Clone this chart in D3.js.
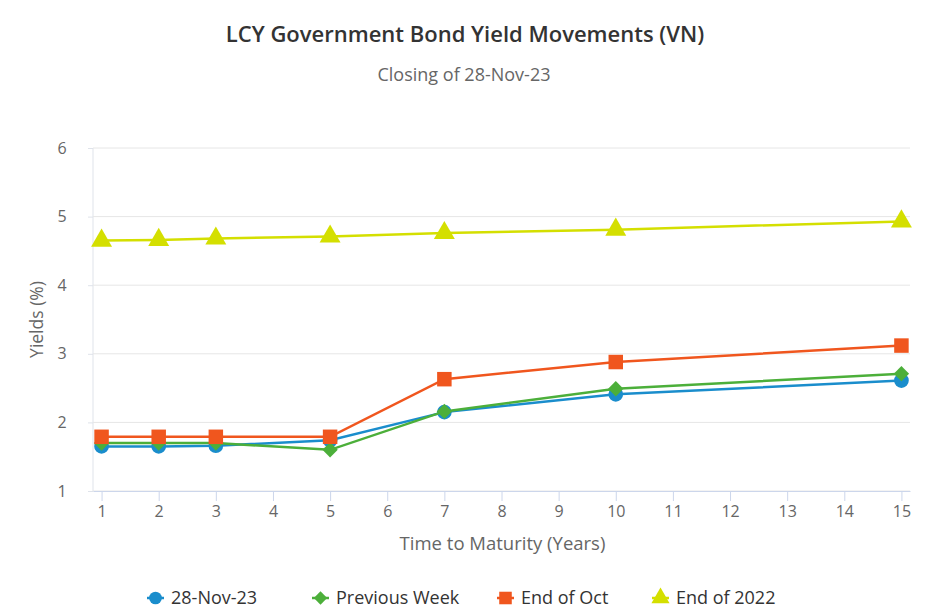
<!DOCTYPE html>
<html>
<head>
<meta charset="utf-8">
<script src="https://cdn.jsdelivr.net/npm/d3@7"></script>
<style>
  body { margin: 0; background: #fff; }
  text { font-family: "Open Sans", "DejaVu Sans", sans-serif; }
</style>
</head>
<body>
<svg></svg>
<script>
// data
const maturities = [1, 2, 3, 5, 7, 10, 15];
const xTicks = [1, 2, 3, 4, 5, 6, 7, 8, 9, 10, 11, 12, 13, 14, 15];
const yTicks = [1, 2, 3, 4, 5, 6];
const seriesNames = ["28-Nov-23", "Previous Week", "End of Oct", "End of 2022"];
const nov28 = [1.65, 1.65, 1.66, 1.74, 2.15, 2.41, 2.61];
const prevWeek = [1.70, 1.70, 1.70, 1.60, 2.16, 2.49, 2.71];
const endOct = [1.79, 1.79, 1.79, 1.79, 2.63, 2.88, 3.12];
const end2022 = [4.65, 4.66, 4.68, 4.71, 4.76, 4.81, 4.93];

const colors = ["#1a8dcc", "#4caf3a", "#f0561e", "#d4df00"];
const symbols = [d3.symbolCircle, d3.symbolDiamond2, d3.symbolSquare, d3.symbolTriangle];
const symSize = [170, 150, 210, 190];

const width = 929, height = 608;
const margin = { top: 148, right: 19, bottom: 117, left: 93 };

const series = [nov28, prevWeek, endOct, end2022].map((vals, i) => ({
    name: seriesNames[i],
    color: colors[i],
    symbol: symbols[i],
    size: symSize[i],
    values: maturities.map((m, j) => ({ x: m, y: vals[j] }))
}));

const svg = d3.select("svg")
    .attr("width", width)
    .attr("height", height);

const x = d3.scaleLinear()
    .domain([0.85, 15.15])
    .range([margin.left, width - margin.right]);

const y = d3.scaleLinear()
    .domain([1, 6])
    .range([height - margin.bottom, margin.top]);

// titles
svg.append("text")
    .attr("x", 465).attr("y", 42)
    .attr("text-anchor", "middle")
    .attr("font-size", 22)
    .attr("font-weight", 600)
    .attr("fill", "#333")
    .text("LCY Government Bond Yield Movements (VN)");

svg.append("text")
    .attr("x", 464).attr("y", 81)
    .attr("text-anchor", "middle")
    .attr("font-size", 18)
    .attr("fill", "#666")
    .text("Closing of 28-Nov-23");

// y axis with grid
const yAxis = svg.append("g")
    .attr("transform", `translate(${margin.left},0)`)
    .call(d3.axisLeft(y).tickValues(yTicks).tickSize(5).tickPadding(26)
        .tickFormat(d3.format("d")));
yAxis.selectAll(".tick line").attr("stroke", "#dfe3ea");
yAxis.select(".domain").attr("stroke", "#dfe3ea").attr("d", `M0,${y(6)}V${y(1)}`);
yAxis.selectAll(".tick text").attr("font-size", 16).attr("fill", "#666").attr("text-anchor", "middle");

svg.append("g")
    .selectAll("line").data(yTicks).enter().append("line")
    .attr("x1", margin.left)
    .attr("x2", width - margin.right)
    .attr("y1", d => y(d))
    .attr("y2", d => y(d))
    .attr("stroke", "#e6e6e6");

// x axis
const xAxis = svg.append("g")
    .attr("transform", `translate(0,${height - margin.bottom})`)
    .call(d3.axisBottom(x).tickValues(xTicks).tickSize(10).tickPadding(5).tickSizeOuter(0));
xAxis.select(".domain").attr("stroke", "#ccd6eb");
xAxis.selectAll(".tick line").attr("stroke", "#ccd6eb");
xAxis.selectAll(".tick text").attr("font-size", 16).attr("fill", "#666");

svg.append("text")
    .attr("x", (margin.left + width - margin.right) / 2 + 1)
    .attr("y", 550)
    .attr("text-anchor", "middle")
    .attr("font-size", 18.5)
    .attr("fill", "#666")
    .text("Time to Maturity (Years)");

svg.append("text")
    .attr("transform", `translate(43,${(y(1) + y(6)) / 2}) rotate(-90)`)
    .attr("text-anchor", "middle")
    .attr("font-size", 17.5)
    .attr("fill", "#666")
    .text("Yields (%)");

// lines and markers
const line = d3.line()
    .x(d => x(d.x))
    .y(d => y(d.y));

const sg = svg.append("g")
    .selectAll("g").data(series).enter().append("g");

sg.append("path")
    .attr("d", d => line(d.values))
    .attr("fill", "none")
    .attr("stroke", d => d.color)
    .attr("stroke-width", 2.5);

sg.each(function (s) {
    d3.select(this).selectAll("path.m").data(s.values).enter().append("path")
        .attr("class", "m")
        .attr("transform", d => `translate(${x(d.x)},${y(d.y)})`)
        .attr("d", d3.symbol().type(s.symbol).size(s.size))
        .attr("fill", s.color);
});

// legend
const legendX = [147, 312, 497, 652];
const legend = svg.append("g")
    .selectAll("g").data(series).enter().append("g")
    .attr("transform", (d, i) => `translate(${legendX[i]},598)`);

legend.append("line")
    .attr("x1", 0).attr("x2", 17)
    .attr("stroke", d => d.color)
    .attr("stroke-width", 2.5);

legend.append("path")
    .attr("transform", "translate(8.5,0)")
    .attr("d", d => d3.symbol().type(d.symbol).size(d.size * 0.75)())
    .attr("fill", d => d.color);

legend.append("text")
    .attr("x", 24)
    .attr("dy", "0.36em")
    .attr("font-size", 18)
    .attr("fill", "#333")
    .text(d => d.name);
</script>
</body>
</html>
